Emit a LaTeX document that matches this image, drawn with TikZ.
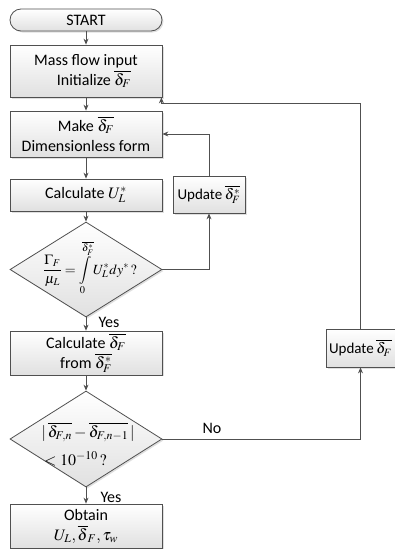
\documentclass[tikz,border=0pt]{standalone}
\usepackage{mathptmx}
\usepackage{fontspec}
\setmainfont{Carlito}
\usepackage{amsmath}
\usetikzlibrary{arrows.meta,shapes.geometric,shadows,calc}
\definecolor{edge}{HTML}{505050}
\tikzset{
  box/.style={draw=edge, line width=0.8pt, top color=white, bottom color=black!12,
    minimum width=152pt, align=center, inner sep=2pt,
    drop shadow={shadow xshift=1.5pt, shadow yshift=-1.5pt, fill=black!25, opacity=0.5}},
  dia/.style={draw=edge, line width=0.8pt, diamond, top color=white, bottom color=black!12,
    minimum width=152pt, inner sep=0pt,
    drop shadow={shadow xshift=1.5pt, shadow yshift=-1.5pt, fill=black!25, opacity=0.5}},
  conn/.style={draw=edge, line width=0.8pt, -{Stealth[length=6pt,width=5pt]}},
  lbl/.style={inner sep=0pt}
}
\begin{document}
\begin{tikzpicture}[x=1pt,y=-1pt,font=\fontsize{16}{20}\selectfont]
\useasboundingbox (0,0) rectangle (395,549);
\node[box, rounded corners=11pt, minimum height=22pt] (start) at (86,20) {START};
\node[box, minimum height=52pt] (mass) at (86,71) {Mass flow input\\ \quad Initialize $\overline{\delta_F}$};
\node[box, minimum height=46pt] (make) at (86,134) {Make $\overline{\delta_F}$\\Dimensionless form};
\node[box, minimum height=32pt] (calc) at (86,195) {Calculate $U_L^*$};
\node[box, minimum width=72pt, minimum height=37pt, inner sep=1pt, font=\fontsize{15}{18}\selectfont] (upd1) at (209,194.5) {Update\,$\overline{\delta_F^*}$};
\node[dia, minimum width=152pt, minimum height=95pt] (d1) at (86,269.5) {};
\node[lbl, font=\fontsize{14}{17}\selectfont] (d1t) at (90,268) {$\dfrac{\Gamma_F}{\mu_L}=\displaystyle\int\limits_0^{\overline{\delta_F^*}} U_L^*dy^*\,?$};
\node[box, minimum height=40pt] (calc2) at (86,353) {Calculate $\overline{\boldsymbol{\delta_F}}$\\ from $\overline{\delta_F^*}$};
\node[dia, minimum width=152pt, minimum height=96pt] (d2) at (86,439) {};
\node[lbl] (d2a) at (88,432) {$|\,\overline{\delta_{F,n}}-\overline{\delta_{F,n-1}}\,|$};
\node[lbl, anchor=west] (d2b) at (44,459) {$<10^{-10}\,?$};
\node[box, minimum height=44pt] (obtain) at (86,526) {Obtain\\ $U_L,\overline{\delta}_F,\tau_w$};
\node[box, minimum width=69pt, minimum height=38pt, inner sep=1pt, font=\fontsize{15}{18}\selectfont] (upd2) at (360.5,348) {Update\,$\overline{\delta_F}$};
\node[lbl] (yes1) at (109,322) {Yes};
\node[lbl] (yes2) at (111,497) {Yes};
\node[lbl] (no) at (212,428) {No};
\coordinate (m1) at ($(mass.south east)+(-1,6)$);
\draw[conn] (start) -- (mass);
\draw[conn] (mass) -- (make);
\draw[conn] (make) -- (calc);
\draw[conn] (calc) -- (d1);
\draw[conn] (d1) -- (calc2);
\draw[conn] (calc2) -- (d2);
\draw[conn] (d2) -- (obtain);
\draw[conn] (d1.east) -| (upd1.south);
\draw[conn] (upd1.north) |- (make.east);
\draw[conn] (d2.east) -| (upd2.south);
\draw[conn] (upd2.north) |- (m1) -- ($(mass.south east)+(-1,0)$);
\end{tikzpicture}
\end{document}
